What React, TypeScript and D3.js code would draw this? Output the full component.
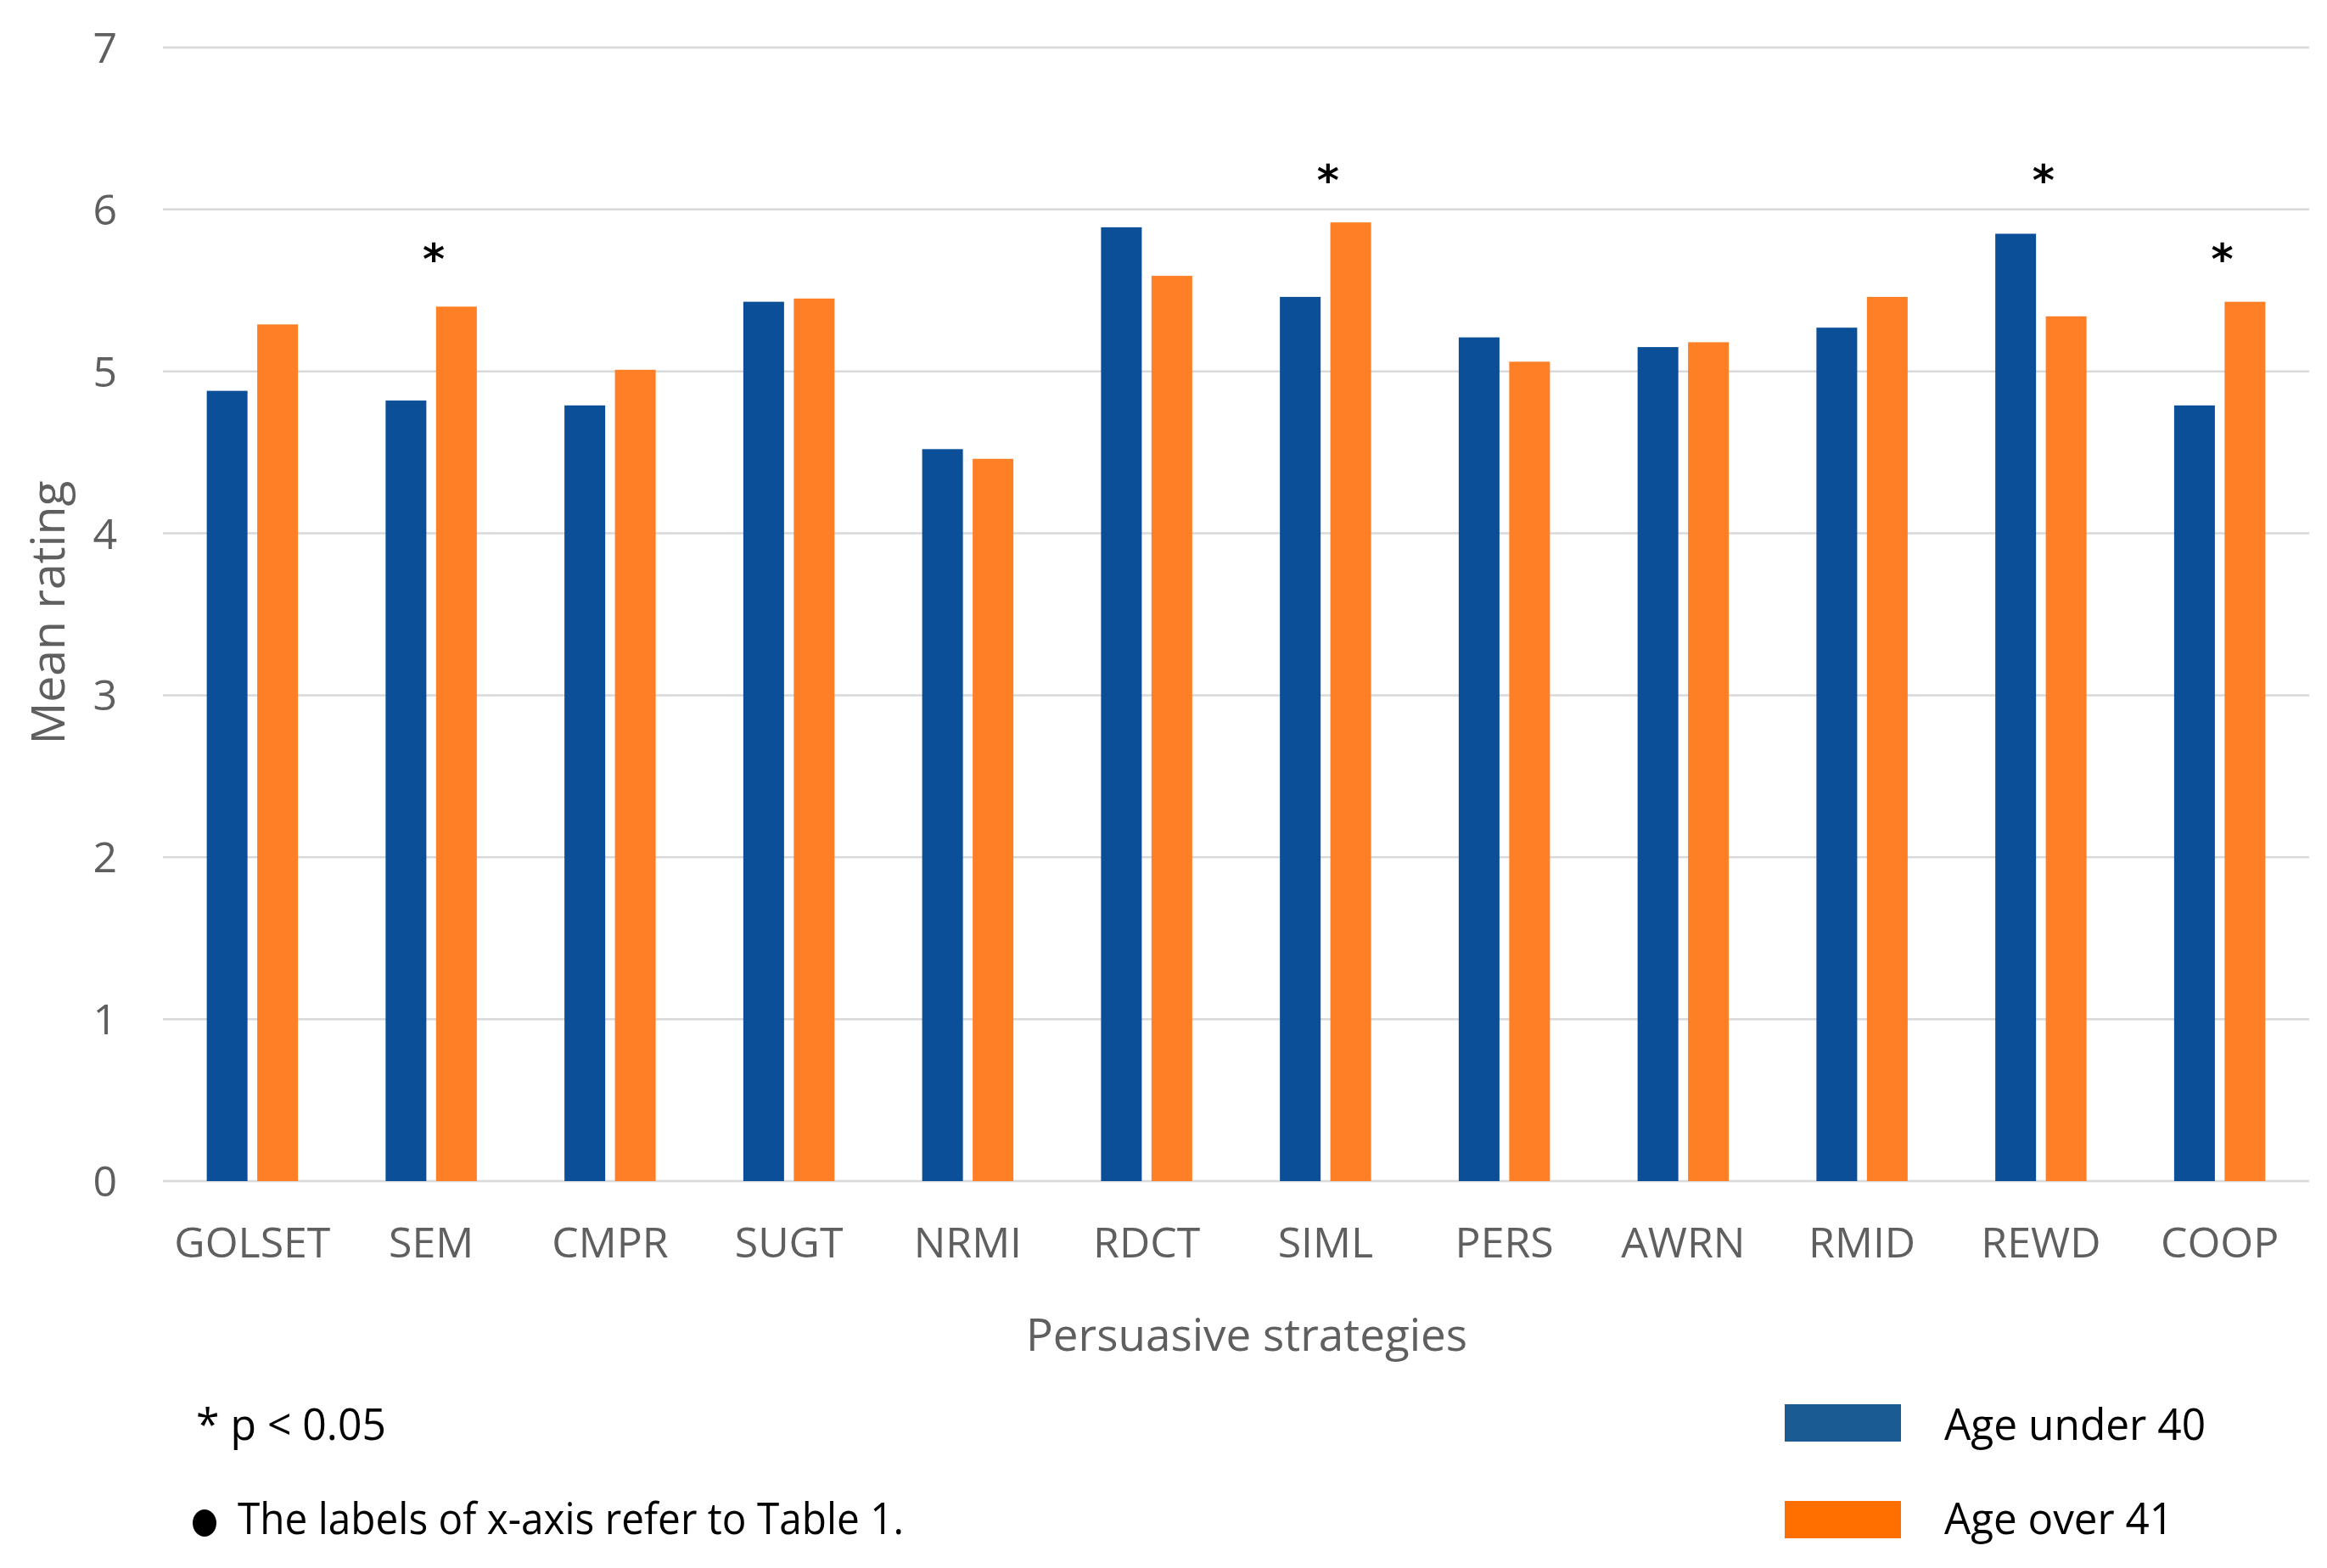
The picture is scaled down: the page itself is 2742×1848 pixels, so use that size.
import React, { useEffect } from "react";
import * as d3 from "d3";

const categories = ["GOLSET", "SEM", "CMPR", "SUGT", "NRMI", "RDCT", "SIML", "PERS", "AWRN", "RMID", "REWD", "COOP"];
const ageUnder40 = [4.88, 4.82, 4.79, 5.43, 4.52, 5.89, 5.46, 5.21, 5.15, 5.27, 5.85, 4.79];
const ageOver41 = [5.29, 5.40, 5.01, 5.45, 4.46, 5.59, 5.92, 5.06, 5.18, 5.46, 5.34, 5.43];
const significant = ["SEM", "SIML", "REWD", "COOP"];
const asteriskLevel = [5.76, 6.245, 6.245, 5.76];
const seriesNames = ["Age under 40", "Age over 41"];
const yTicks = [0, 1, 2, 3, 4, 5, 6, 7];
const footnotes = ["* p < 0.05", "The labels of x-axis refer to Table 1."];

const W = 2742;
const H = 1848;
const BAR_COLORS = ["#0B4F99", "#FF7F27"];
const LEGEND_COLORS = ["#1B5B94", "#FF6F00"];
const FONT = "'Open Sans', 'Noto Sans', sans-serif";

export default function App() {
  useEffect(() => {
    document.body.style.margin = "0";
  }, []);

  const x0 = d3.scaleBand<string>().domain(categories).range([192, 2721]).paddingInner(0).paddingOuter(0);
  const bw = x0.bandwidth();
  const groupW = bw * 0.51;
  const x1 = d3
    .scaleBand<string>()
    .domain(seriesNames)
    .range([(bw - groupW) / 2, (bw + groupW) / 2])
    .paddingInner(0.193)
    .paddingOuter(0);
  const y = d3.scaleLinear().domain([0, 7]).range([1392, 56]);
  const series = [ageUnder40, ageOver41];

  return (
    <svg width={W} height={H} viewBox={`0 0 ${W} ${H}`} style={{ display: "block", background: "#fff" }}>
      <rect x={0} y={0} width={W} height={H} fill="#fff" />
      {/* gridlines */}
      {yTicks.map((t) => (
        <line key={"g" + t} x1={192} x2={2721} y1={y(t)} y2={y(t)} stroke="#D9D9D9" strokeWidth={2.5} />
      ))}
      {/* y tick labels */}
      {yTicks.map((t) => (
        <text
          key={"yt" + t}
          x={138}
          y={y(t)}
          dy="0.36em"
          textAnchor="end"
          fontFamily={FONT}
          fontSize={50}
          fill="#5f5f5f"
        >
          {t}
        </text>
      ))}
      {/* bars */}
      {series.map((vals, si) =>
        categories.map((c, i) => (
          <rect
            key={c + si}
            x={(x0(c) as number) + (x1(seriesNames[si]) as number)}
            y={y(vals[i])}
            width={x1.bandwidth()}
            height={y(0) - y(vals[i])}
            fill={BAR_COLORS[si]}
          />
        ))
      )}
      {/* significance asterisks */}
      {significant.map((c, k) => (
        <text
          key={"s" + c}
          x={(x0(c) as number) + bw / 2 + 3}
          y={y(asteriskLevel[k]) + 30}
          textAnchor="middle"
          fontFamily="'DejaVu Sans', sans-serif"
          fontWeight="bold"
          fontSize={50}
          fill="#000"
        >
          *
        </text>
      ))}
      {/* x tick labels */}
      {categories.map((c) => (
        <text
          key={"xl" + c}
          x={(x0(c) as number) + bw / 2}
          y={1482}
          textAnchor="middle"
          fontFamily={FONT}
          fontSize={50}
          fill="#5f5f5f"
        >
          {c}
        </text>
      ))}
      {/* axis titles */}
      <text x={1469} y={1592} textAnchor="middle" fontFamily={FONT} fontSize={53} fill="#5f5f5f">
        Persuasive strategies
      </text>
      <text
        transform={`translate(76, 722) rotate(-90)`}
        textAnchor="middle"
        fontFamily={FONT}
        fontSize={54}
        fill="#5f5f5f"
        textLength={311}
        lengthAdjust="spacingAndGlyphs"
      >
        Mean rating
      </text>
      {/* footnotes */}
      <text x={231} y={1697} fontFamily={FONT} fontSize={52} fill="#000" textLength={224} lengthAdjust="spacingAndGlyphs">
        {footnotes[0]}
      </text>
      <ellipse cx={241} cy={1795} rx={14} ry={16} fill="#000" />
      <text x={280} y={1808} fontFamily={FONT} fontSize={52} fill="#000" textLength={785} lengthAdjust="spacingAndGlyphs">
        {footnotes[1]}
      </text>
      {/* legend */}
      {seriesNames.map((s, i) => (
        <g key={"lg" + s}>
          <rect x={2103} y={1655 + i * 114} width={137} height={44} fill={LEGEND_COLORS[i]} />
          <text
            x={2291}
            y={1697 + i * 111}
            fontFamily={FONT}
            fontSize={52}
            fill="#000"
            textLength={i === 0 ? 308 : 270}
            lengthAdjust="spacingAndGlyphs"
          >
            {s}
          </text>
        </g>
      ))}
    </svg>
  );
}
